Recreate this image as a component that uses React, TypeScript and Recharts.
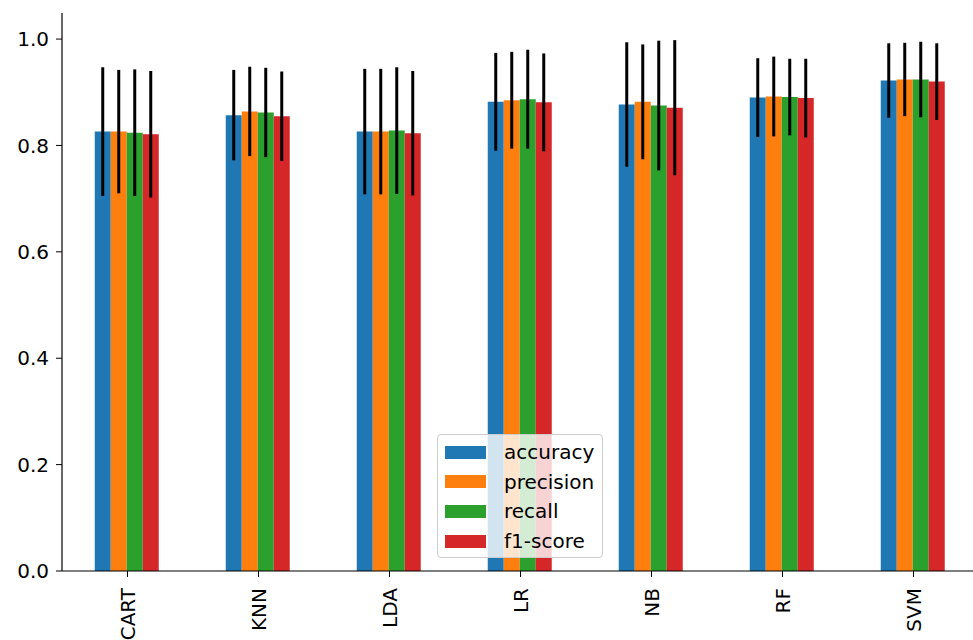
import React from 'react'
import { BarChart, Bar, XAxis, YAxis, ErrorBar } from 'recharts'

// model names along the x axis
const models = ['CART', 'KNN', 'LDA', 'LR', 'NB', 'RF', 'SVM']

// mean scores per model
const accuracy = [0.826, 0.857, 0.826, 0.882, 0.877, 0.890, 0.922]
const precision = [0.826, 0.864, 0.826, 0.885, 0.882, 0.892, 0.924]
const recall = [0.824, 0.862, 0.828, 0.887, 0.875, 0.891, 0.924]
const f1 = [0.821, 0.855, 0.823, 0.881, 0.871, 0.889, 0.920]

// std (half length of the error bars)
const accuracyStd = [0.121, 0.085, 0.118, 0.092, 0.117, 0.074, 0.070]
const precisionStd = [0.116, 0.084, 0.118, 0.091, 0.108, 0.075, 0.069]
const recallStd = [0.119, 0.084, 0.119, 0.093, 0.122, 0.072, 0.071]
const f1Std = [0.119, 0.084, 0.117, 0.092, 0.127, 0.074, 0.072]

const yTicks = [0, 0.2, 0.4, 0.6, 0.8, 1.0]

const series = [
  { key: 'accuracy', vals: accuracy, err: accuracyStd, color: '#1f77b4' },
  { key: 'precision', vals: precision, err: precisionStd, color: '#ff7f0e' },
  { key: 'recall', vals: recall, err: recallStd, color: '#2ca02c' },
  { key: 'f1-score', vals: f1, err: f1Std, color: '#d62728' },
]

const data = models.map((m, i) => {
  const row: { [k: string]: number | string } = { model: m }
  series.forEach(s => {
    row[s.key] = s.vals[i]
    row[s.key + '_err'] = s.err[i]
  })
  return row
})

const font = '"DejaVu Sans", sans-serif'

function RotTick({ x, y, payload }: any) {
  return (
    <g transform={`translate(${x},${y})`}>
      <text x={0} y={0} dy="0.35em" transform="rotate(-90)" textAnchor="end"
        fontSize={20} fontFamily={font} fill="#000">{payload.value}</text>
    </g>
  )
}

export default function App() {
  return (
    <div style={{ position: 'absolute', left: 0, top: 0, width: 973, height: 640, overflow: 'hidden', background: '#fff' }}>
      <BarChart width={990} height={640} data={data}
        margin={{ top: 13, right: 11, bottom: 0, left: 0 }}
        barCategoryGap="25%" barGap={0}>
        <XAxis dataKey="model" height={69} tickSize={6} tickMargin={11}
          tick={<RotTick />} interval={0}
          axisLine={{ stroke: '#000', strokeWidth: 1.2 }} tickLine={{ stroke: '#000' }} />
        <XAxis xAxisId="top" dataKey="model" orientation="top" height={0} tick={false} tickLine={false}
          axisLine={{ stroke: '#000', strokeWidth: 1.2 }} />
        <YAxis width={62} domain={[0, 1.049]} ticks={yTicks} allowDataOverflow
          tickFormatter={(v: number) => v.toFixed(1)} tickSize={6} tickMargin={7}
          tick={{ fontSize: 20, fontFamily: font, fill: '#000' }}
          axisLine={{ stroke: '#000', strokeWidth: 1.2 }} tickLine={{ stroke: '#000' }} />
        {series.map(s => (
          <Bar key={s.key} dataKey={s.key} fill={s.color} isAnimationActive={false}>
            <ErrorBar dataKey={s.key + '_err'} width={0} stroke="#000" strokeWidth={3} direction="y" />
          </Bar>
        ))}
      </BarChart>
      <div style={{
        position: 'absolute', left: 437, top: 434, width: 166, height: 124, boxSizing: 'border-box',
        background: 'rgba(255,255,255,0.8)', border: '1px solid #ccc', borderRadius: 4,
        fontFamily: font, fontSize: 20, color: '#000'
      }}>
        {series.map((s, i) => (
          <div key={s.key} style={{ position: 'absolute', left: 0, top: 5 + i * 29.7, height: 24, display: 'flex', alignItems: 'center' }}>
            <div style={{ marginLeft: 7, width: 41, height: 13, background: s.color }} />
            <span style={{ marginLeft: 18 }}>{s.key}</span>
          </div>
        ))}
      </div>
    </div>
  )
}
